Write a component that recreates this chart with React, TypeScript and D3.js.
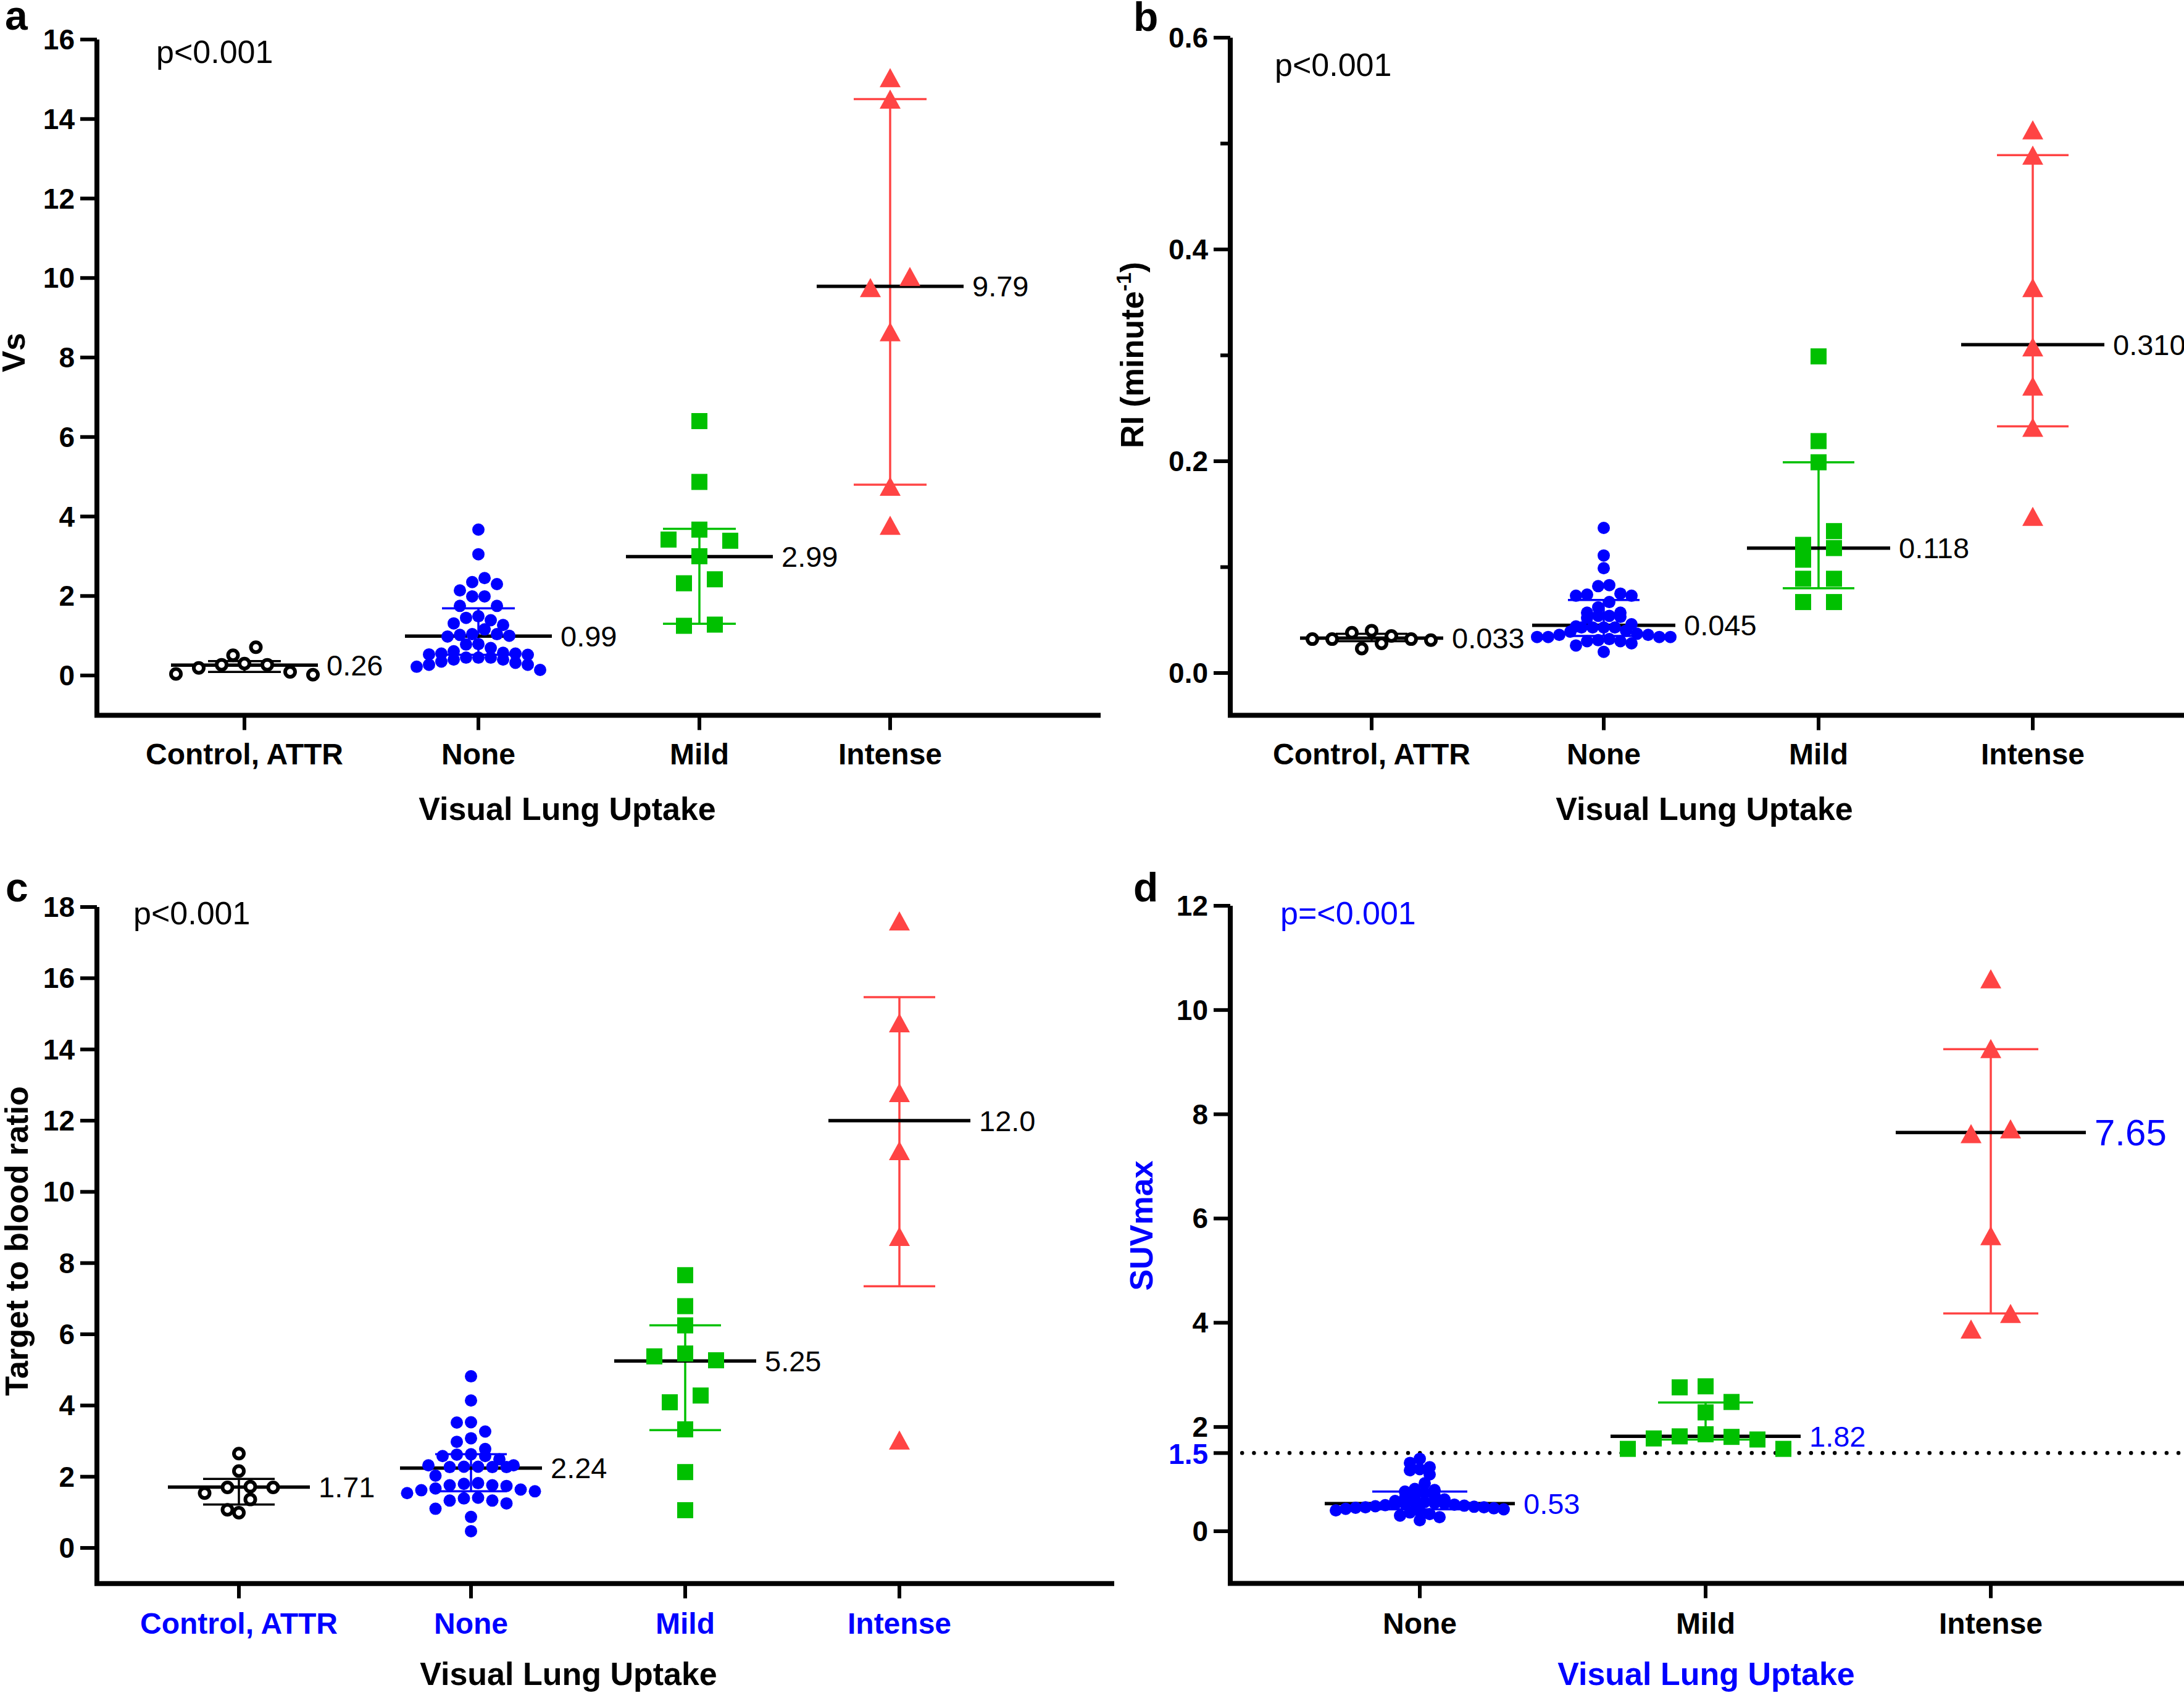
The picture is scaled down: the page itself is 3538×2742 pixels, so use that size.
import React from "react";
import * as d3 from "d3";

const FONT = "'Liberation Sans', Arial, Helvetica, sans-serif";
const BLUE = "#0000FF";
const GREEN = "#00C000";
const RED = "#FF4444";
const BLACK = "#000000";

// ---------- categories ----------
const categories4 = ["Control, ATTR", "None", "Mild", "Intense"];
const categories3 = ["None", "Mild", "Intense"];

// ---------- panel a: Vs ----------
const vsControl = [0.09, 0.3, 0.71, 0.19, 0.27, 0.51, 0.02, 0.27, 0.04];
const vsNone = [3.67, 3.05, 2.3, 2.35, 2.45, 1.99, 1.99, 2.14, 1.75, 1.75, 1.49, 1.39, 1.45, 1.31, 1.27, 1.16, 0.98, 1.04, 1.02, 1.04, 1.0, 0.79, 0.78, 0.61, 0.69, 0.45, 0.52, 0.45, 0.35, 0.4, 0.53, 0.4, 0.55, 0.57, 0.55, 0.45, 0.27, 0.14, 0.32, 0.22, 0.27];
const vsMild = [6.4, 4.87, 3.67, 3.39, 3.42, 3.0, 2.32, 2.42, 1.28, 1.25];
const vsIntense = [15.04, 14.5, 10.04, 9.76, 8.65, 4.76, 3.78];
const vsCenter = [0.26, 0.99, 2.99, 9.79];
const vsLow = [0.09, 0.52, 1.3, 4.8];
const vsHigh = [0.36, 1.69, 3.69, 14.5];
const vsLabels = ["0.26", "0.99", "2.99", "9.79"];
const vsTicks = [0, 2, 4, 6, 8, 10, 12, 14, 16];

// ---------- panel b: RI ----------
const riControl = [0.031, 0.04, 0.032, 0.035, 0.038, 0.023, 0.032, 0.028, 0.032];
const riNone = [0.137, 0.111, 0.099, 0.083, 0.082, 0.073, 0.074, 0.075, 0.073, 0.067, 0.062, 0.057, 0.057, 0.052, 0.054, 0.053, 0.054, 0.046, 0.043, 0.039, 0.043, 0.043, 0.044, 0.043, 0.034, 0.036, 0.034, 0.036, 0.037, 0.034, 0.04, 0.03, 0.032, 0.03, 0.031, 0.034, 0.026, 0.028, 0.02];
const riMild = [0.299, 0.219, 0.199, 0.134, 0.118, 0.121, 0.107, 0.089, 0.089, 0.067, 0.067];
const riIntense = [0.513, 0.489, 0.364, 0.308, 0.271, 0.232, 0.148];
const riCenter = [0.033, 0.045, 0.118, 0.31];
const riLow = [0.03, 0.035, 0.08, 0.233];
const riHigh = [0.037, 0.069, 0.199, 0.489];
const riLabels = ["0.033", "0.045", "0.118", "0.310"];
const riTicks = [0, 0.2, 0.4, 0.6];
const riMinorTicks = [0.1, 0.3, 0.5];

// ---------- panel c: target to blood ratio ----------
const tbControl = [2.65, 2.16, 1.7, 1.72, 1.7, 1.36, 1.54, 0.99, 1.07];
const tbNone = [4.82, 4.14, 3.52, 3.53, 3.27, 3.08, 2.98, 2.78, 2.63, 2.58, 2.62, 2.58, 2.49, 2.32, 2.28, 2.28, 2.27, 2.27, 2.27, 2.32, 2.03, 1.8, 1.82, 1.74, 1.76, 1.76, 1.59, 1.67, 1.62, 1.64, 1.54, 1.39, 1.41, 1.33, 1.33, 1.25, 1.1, 0.87, 0.47];
const tbMild = [7.66, 6.79, 6.25, 5.46, 5.27, 5.38, 4.09, 4.28, 3.33, 2.13, 1.06];
const tbIntense = [17.61, 14.75, 12.79, 11.16, 8.75, 3.03];
const tbCenter = [1.71, 2.24, 5.25, 12.0];
const tbLow = [1.22, 1.59, 3.31, 7.35];
const tbHigh = [1.94, 2.63, 6.25, 15.47];
const tbLabels = ["1.71", "2.24", "5.25", "12.0"];
const tbTicks = [0, 2, 4, 6, 8, 10, 12, 14, 16, 18];

// ---------- panel d: SUVmax ----------
const suvNone = [1.39, 1.31, 1.23, 1.19, 1.17, 1.09, 0.92, 0.81, 0.79, 0.76, 0.74, 0.72, 0.68, 0.64, 0.61, 0.58, 0.56, 0.55, 0.54, 0.53, 0.53, 0.52, 0.51, 0.5, 0.49, 0.48, 0.47, 0.46, 0.46, 0.45, 0.44, 0.43, 0.42, 0.4, 0.38, 0.36, 0.33, 0.3, 0.27, 0.21];
const suvMild = [2.78, 2.76, 2.48, 2.28, 1.86, 1.82, 1.81, 1.78, 1.76, 1.58, 1.58];
const suvIntense = [10.6, 9.26, 7.72, 7.63, 5.67, 4.18, 3.88];
const suvCenter = [0.53, 1.82, 7.65];
const suvLow = [0.42, 1.76, 4.18];
const suvHigh = [0.76, 2.47, 9.25];
const suvLabels = ["0.53", "1.82", "7.65"];
const suvTicks = [0, 2, 4, 6, 8, 10, 12];
const suvThreshold = 1.5;

type Marker = "open" | "dot" | "square" | "tri";

const markerColor: Record<Marker, string> = { open: BLACK, dot: BLUE, square: GREEN, tri: RED };

function makeGroups(sets: number[][], markers: Marker[], center: number[], lo: number[], hi: number[], labels: string[]) {
  return sets.map((values, i) => ({ values, marker: markers[i], center: center[i], lo: lo[i], hi: hi[i], label: labels[i] }));
}

const panels = [
  {
    letter: "a", letterPos: [8, 48],
    axisX: 157, xEnd: 1783, yDomain: [-1, 16], yRange: [1158.4, 64],
    ticks: vsTicks, minor: [] as number[], tickFmt: d3.format("d"),
    cats: categories4, catX: [396, 775, 1133, 1442],
    groups: makeGroups([vsControl, vsNone, vsMild, vsIntense], ["open", "dot", "square", "tri"], vsCenter, vsLow, vsHigh, vsLabels),
    meanHalf: 119, capHalf: 59,
    spacing: { open: 37, dot: 20, square: 50, tri: 64 }, rowH: { open: 20, dot: 20, square: 26, tri: 31 },
    yLabel: "Vs", yLabelPos: [40, 571], yLabelColor: BLACK,
    p: "p<0.001", pPos: [253, 102], pColor: BLACK,
    catColor: BLACK, catBaseline: 1238, title: "Visual Lung Uptake", titlePos: [919, 1328], titleColor: BLACK,
    valueColor: BLACK, valueSizes: [47, 47, 47, 47],
  },
  {
    letter: "b", letterPos: [1836, 50],
    axisX: 1993, xEnd: 3538, yDomain: [-0.04, 0.6], yRange: [1158.6, 61],
    ticks: riTicks, minor: riMinorTicks, tickFmt: d3.format(".1f"),
    cats: categories4, catX: [2222, 2598, 2946, 3293],
    groups: makeGroups([riControl, riNone, riMild, riIntense], ["open", "dot", "square", "tri"], riCenter, riLow, riHigh, riLabels),
    meanHalf: 116, capHalf: 58,
    spacing: { open: 32, dot: 18, square: 50, tri: 64 }, rowH: { open: 20, dot: 18, square: 26, tri: 31 },
    yLabel: "RI", yLabelPos: [1852, 575], yLabelColor: BLACK,
    p: "p<0.001", pPos: [2065, 123], pColor: BLACK,
    catColor: BLACK, catBaseline: 1238, title: "Visual Lung Uptake", titlePos: [2761, 1328], titleColor: BLACK,
    valueColor: BLACK, valueSizes: [47, 47, 47, 47],
  },
  {
    letter: "c", letterPos: [9, 1460],
    axisX: 157, xEnd: 1805, yDomain: [-1, 18], yRange: [2564.7, 1469],
    ticks: tbTicks, minor: [] as number[], tickFmt: d3.format("d"),
    cats: categories4, catX: [387, 763, 1110, 1457],
    groups: makeGroups([tbControl, tbNone, tbMild, tbIntense], ["open", "dot", "square", "tri"], tbCenter, tbLow, tbHigh, tbLabels),
    meanHalf: 115, capHalf: 58,
    spacing: { open: 37, dot: 23, square: 50, tri: 64 }, rowH: { open: 20, dot: 20, square: 26, tri: 31 },
    yLabel: "Target to blood ratio", yLabelPos: [45, 2010], yLabelColor: BLACK,
    p: "p<0.001", pPos: [216, 1497], pColor: BLACK,
    catColor: BLUE, catBaseline: 2646, title: "Visual Lung Uptake", titlePos: [921, 2729], titleColor: BLACK,
    valueColor: BLACK, valueSizes: [47, 47, 47, 47],
  },
  {
    letter: "d", letterPos: [1836, 1460],
    axisX: 1993, xEnd: 3538, yDomain: [-1, 12], yRange: [2564.4, 1467],
    ticks: suvTicks, minor: [] as number[], tickFmt: d3.format("d"),
    cats: categories3, catX: [2300, 2763, 3225],
    groups: makeGroups([suvNone, suvMild, suvIntense], ["dot", "square", "tri"], suvCenter, suvLow, suvHigh, suvLabels),
    meanHalf: 154, capHalf: 77,
    spacing: { open: 37, dot: 16, square: 42, tri: 64 }, rowH: { open: 20, dot: 14, square: 26, tri: 31 },
    yLabel: "SUVmax", yLabelPos: [1867, 1985], yLabelColor: BLUE,
    p: "p=<0.001", pPos: [2074, 1497], pColor: BLUE,
    catColor: BLACK, catBaseline: 2646, title: "Visual Lung Uptake", titlePos: [2764, 2729], titleColor: BLUE,
    valueColor: BLUE, valueSizes: [47, 47, 60],
    threshold: suvThreshold,
  },
];

function swarm(values: number[], y: (v: number) => number, rowH: number, spacing: number) {
  const items = values.map((v) => ({ v, py: y(v) })).sort((a, b) => a.py - b.py);
  const out: { v: number; py: number; dx: number }[] = [];
  let row: { v: number; py: number }[] = [];
  let y0 = 0;
  const flush = () => {
    const n = row.length;
    row.forEach((p, k) => {
      let idx: number;
      if (n % 2 === 1) idx = k === 0 ? 0 : Math.ceil(k / 2) * (k % 2 === 1 ? -1 : 1);
      else idx = (Math.floor(k / 2) + 0.5) * (k % 2 === 0 ? 1 : -1);
      out.push({ v: p.v, py: p.py, dx: idx * spacing });
    });
    row = [];
  };
  items.forEach((p) => {
    if (row.length && p.py - y0 < rowH) row.push(p);
    else {
      flush();
      row = [p];
      y0 = p.py;
    }
  });
  flush();
  return out;
}

const TRI_W = 34;
const TRI_H = 31;
const triPath = `M0,${-TRI_H / 2}L${TRI_W / 2},${TRI_H / 2}L${-TRI_W / 2},${TRI_H / 2}Z`;

function MarkerShape({ m, x, y }: { m: Marker; x: number; y: number }) {
  if (m === "open") return <circle cx={x} cy={y} r={8} fill="#fff" stroke={BLACK} strokeWidth={6} />;
  if (m === "dot") return <circle cx={x} cy={y} r={10} fill={BLUE} />;
  if (m === "square") return <rect x={x - 13} y={y - 13} width={26} height={26} fill={GREEN} />;
  return <path d={triPath} transform={`translate(${x},${y})`} fill={RED} />;
}

function Panel({ cfg }: { cfg: any }) {
  const y = d3.scaleLinear().domain(cfg.yDomain).range(cfg.yRange);
  const x = d3.scaleOrdinal<string, number>().domain(cfg.cats).range(cfg.catX);
  const bottom = y(cfg.yDomain[0]);
  const top = y(cfg.yDomain[1]);
  const ax = cfg.axisX;
  return (
    <g fontFamily={FONT}>
      <text x={cfg.letterPos[0]} y={cfg.letterPos[1]} fontSize={66} fontWeight="bold">{cfg.letter}</text>

      {cfg.threshold !== undefined && (
        <line x1={ax} x2={cfg.xEnd} y1={y(cfg.threshold)} y2={y(cfg.threshold)} stroke={BLACK} strokeWidth={6.5} strokeDasharray="0 19.2" strokeLinecap="round" />
      )}

      {cfg.ticks.map((t: number) => (
        <g key={"t" + t}>
          <line x1={ax - 27} x2={ax} y1={y(t)} y2={y(t)} stroke={BLACK} strokeWidth={6} />
          <text x={ax - 36} y={y(t)} textAnchor="end" dominantBaseline="central" fontSize={46} fontWeight="bold">{cfg.tickFmt(t)}</text>
        </g>
      ))}
      {cfg.minor.map((t: number) => (
        <line key={"m" + t} x1={ax - 16} x2={ax} y1={y(t)} y2={y(t)} stroke={BLACK} strokeWidth={6} />
      ))}
      {cfg.threshold !== undefined && (
        <g>
          <line x1={ax - 27} x2={ax} y1={y(cfg.threshold)} y2={y(cfg.threshold)} stroke={BLACK} strokeWidth={6} />
          <text x={ax - 36} y={y(cfg.threshold) + 2} textAnchor="end" dominantBaseline="central" fontSize={46} fontWeight="bold" fill={BLUE}>{d3.format(".1f")(cfg.threshold)}</text>
        </g>
      )}

      {cfg.cats.map((c: string) => (
        <g key={c}>
          <line x1={x(c)} x2={x(c)} y1={bottom} y2={bottom + 24} stroke={BLACK} strokeWidth={6} />
          <text x={x(c)} y={cfg.catBaseline} textAnchor="middle" fontSize={48} fontWeight="bold" fill={cfg.catColor}>{c}</text>
        </g>
      ))}

      <path d={`M${ax},${top}V${bottom}H${cfg.xEnd}`} fill="none" stroke={BLACK} strokeWidth={8} strokeLinejoin="miter" />

      <text x={cfg.titlePos[0]} y={cfg.titlePos[1]} textAnchor="middle" fontSize={52} fontWeight="bold" fill={cfg.titleColor}>{cfg.title}</text>

      <text transform={`translate(${cfg.yLabelPos[0]},${cfg.yLabelPos[1]}) rotate(-90)`} textAnchor="middle" fontSize={52} fontWeight="bold" fill={cfg.yLabelColor}>
        {cfg.yLabel === "RI" ? (
          <>
            <tspan>RI (minute</tspan>
            <tspan fontSize={34} dy={-20}>-1</tspan>
            <tspan dy={20}>)</tspan>
          </>
        ) : (
          cfg.yLabel
        )}
      </text>

      <text x={cfg.pPos[0]} y={cfg.pPos[1]} fontSize={52} fill={cfg.pColor}>{cfg.p}</text>

      {cfg.groups.map((g: any, i: number) => {
        const cx = x(cfg.cats[i]);
        const col = markerColor[g.marker as Marker];
        const pts = swarm(g.values, y, cfg.rowH[g.marker], cfg.spacing[g.marker]);
        return (
          <g key={"g" + i}>
            <line x1={cx} x2={cx} y1={y(g.lo)} y2={y(g.hi)} stroke={col} strokeWidth={3.5} />
            <line x1={cx - cfg.capHalf} x2={cx + cfg.capHalf} y1={y(g.lo)} y2={y(g.lo)} stroke={col} strokeWidth={3.5} />
            <line x1={cx - cfg.capHalf} x2={cx + cfg.capHalf} y1={y(g.hi)} y2={y(g.hi)} stroke={col} strokeWidth={3.5} />
            <line x1={cx - cfg.meanHalf} x2={cx + cfg.meanHalf} y1={y(g.center)} y2={y(g.center)} stroke={BLACK} strokeWidth={5.5} />
            {pts.map((p, k) => (
              <MarkerShape key={k} m={g.marker} x={cx + p.dx} y={p.py} />
            ))}
            <text x={cx + cfg.meanHalf + 14} y={y(g.center)} dominantBaseline="central" fontSize={cfg.valueSizes[i]} fill={cfg.valueColor}>{g.label}</text>
          </g>
        );
      })}
    </g>
  );
}

export default function App() {
  return (
    <svg width={3538} height={2742} viewBox="0 0 3538 2742" style={{ position: "absolute", left: 0, top: 0, background: "#fff" }}>
      <rect x={0} y={0} width={3538} height={2742} fill="#fff" />
      {panels.map((p) => (
        <Panel key={p.letter} cfg={p} />
      ))}
    </svg>
  );
}
